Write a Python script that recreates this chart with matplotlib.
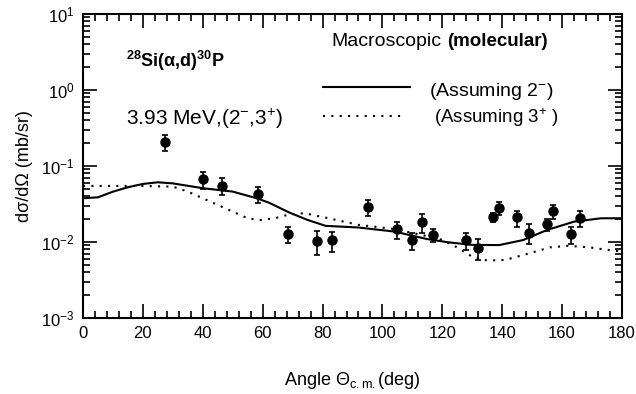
import matplotlib
matplotlib.use('Agg')
import matplotlib.pyplot as plt
from matplotlib.ticker import MultipleLocator, LogLocator, NullFormatter

plt.rcParams['font.family'] = ['Liberation Sans', 'DejaVu Sans']
plt.rcParams['mathtext.fontset'] = 'custom'
plt.rcParams['mathtext.rm'] = 'Liberation Sans'
plt.rcParams['mathtext.it'] = 'Liberation Sans:italic'
plt.rcParams['mathtext.bf'] = 'Liberation Sans:bold'

# measured points (deg, mb/sr)
angle = [27.4, 40.2, 46.3, 58.3, 68.4, 78.3, 83.3, 95.1, 105.0, 110.0, 113.1,
         117.0, 127.9, 132.0, 136.8, 138.9, 145.0, 149.0, 154.9, 157.0,
         163.0, 166.0]
xsec = [0.207, 0.0668, 0.0551, 0.0433, 0.0129, 0.0104, 0.0105, 0.0292,
        0.0148, 0.0106, 0.0182, 0.0124, 0.0106, 0.00834, 0.0211, 0.0283,
        0.0211, 0.0130, 0.0171, 0.0256, 0.0126, 0.0209]
err_lo = [0.050, 0.017, 0.014, 0.011, 0.0033, 0.0037, 0.0032, 0.0072,
          0.0039, 0.0028, 0.005, 0.0023, 0.0028, 0.0025, 0.003, 0.0056,
          0.0055, 0.0037, 0.003, 0.0057, 0.0033, 0.005]
err_hi = [0.051, 0.017, 0.014, 0.010, 0.003, 0.0036, 0.003, 0.0065,
          0.0034, 0.0024, 0.005, 0.0023, 0.0024, 0.0026, 0.003, 0.0056,
          0.0047, 0.004, 0.003, 0.005, 0.003, 0.0049]

# calculation assuming 2-
ang_2m = [0, 5, 10, 15, 20, 25, 30, 40, 50, 58, 62, 69, 75, 81, 92, 104,
          115, 122, 130, 139, 147, 155, 164, 173, 180]
sig_2m = [0.0376, 0.0387, 0.0459, 0.0525, 0.058, 0.061, 0.059, 0.051,
          0.046, 0.0376, 0.033, 0.0243, 0.0195, 0.0163, 0.0155, 0.0137,
          0.0109, 0.0099, 0.00915, 0.0091, 0.0106, 0.0144, 0.0185, 0.0205,
          0.0205]

# calculation assuming 3+
ang_3p = [0, 10, 20, 25, 30, 35, 40, 47, 55, 59, 64, 69, 74, 81, 92, 104,
          113, 119, 124, 130, 135, 141, 148, 156, 162, 169, 177, 180]
sig_3p = [0.0546, 0.0546, 0.0546, 0.054, 0.0535, 0.046, 0.0376, 0.0283,
          0.0205, 0.0194, 0.0205, 0.0231, 0.0239, 0.0209, 0.0168, 0.0148,
          0.0124, 0.011, 0.0089, 0.0064, 0.0057, 0.0058, 0.0069, 0.0085,
          0.0089, 0.0085, 0.0077, 0.0075]


def make_plot():
    fig = plt.figure(figsize=(6.36, 3.94), dpi=100)
    ax = fig.add_axes([0.1305, 0.193, 0.8475, 0.7715])

    # curves and data
    ax.plot(ang_2m, sig_2m, color='black', lw=1.5)
    ax.plot(ang_3p, sig_3p, color='black', lw=1.5, ls=(0, (1, 3)))
    ax.errorbar(angle, xsec, yerr=[err_lo, err_hi], fmt='o', color='black',
                ms=6.5, elinewidth=1.2, capsize=2, capthick=1.2)

    ax.set_yscale('log')
    ax.set_xlim(0, 180)
    ax.set_ylim(1e-3, 1e1)

    # ticks inside on every side
    ax.xaxis.set_major_locator(MultipleLocator(20))
    ax.xaxis.set_minor_locator(MultipleLocator(4))
    ax.yaxis.set_major_locator(LogLocator(base=10))
    ax.yaxis.set_minor_locator(LogLocator(base=10, subs=range(2, 10)))
    ax.yaxis.set_minor_formatter(NullFormatter())
    ax.tick_params(which='both', direction='in', top=True, right=True,
                   width=1.2, labelsize=12)
    ax.tick_params(which='major', length=10, pad=6)
    ax.tick_params(which='minor', length=5)
    for sp in ax.spines.values():
        sp.set_linewidth(1.5)

    ax.set_xlabel(r'Angle $\Theta_{\mathrm{c.m.}}$(deg)', fontsize=13,
                  labelpad=21)
    ax.set_ylabel('dσ/dΩ (mb/sr)', fontsize=13, labelpad=6)

    # annotations
    ax.text(14.5, 2.03, '$^{\\mathbf{28}}$Si(α,d)$^{\\mathbf{30}}$P',
            fontsize=13, fontweight='bold', va='baseline')
    ax.text(14.3, 0.341, r'3.93 MeV,(2$^{-}$,3$^{+}$)', fontsize=15,
            va='baseline')
    ax.text(82.8, 3.83, 'Macroscopic', fontsize=14, va='baseline')
    ax.text(121.5, 3.83, '(molecular)', fontsize=13.5, fontweight='bold',
            va='baseline')

    # hand-made legend
    ax.plot([80.0, 109.2], [1.11, 1.11], color='black', lw=1.5)
    ax.text(115.5, 0.841, r'(Assuming 2$^{-}$)', fontsize=14,
            va='baseline')
    ax.plot([80.2, 107.5], [0.46, 0.46], color='black', lw=1.5,
            ls=(0, (1, 3)))
    ax.text(117.3, 0.365, r'(Assuming 3$^{+}$ )', fontsize=13.5,
            va='baseline')

    fig.savefig('out.png', dpi=100, facecolor='white')


make_plot()
